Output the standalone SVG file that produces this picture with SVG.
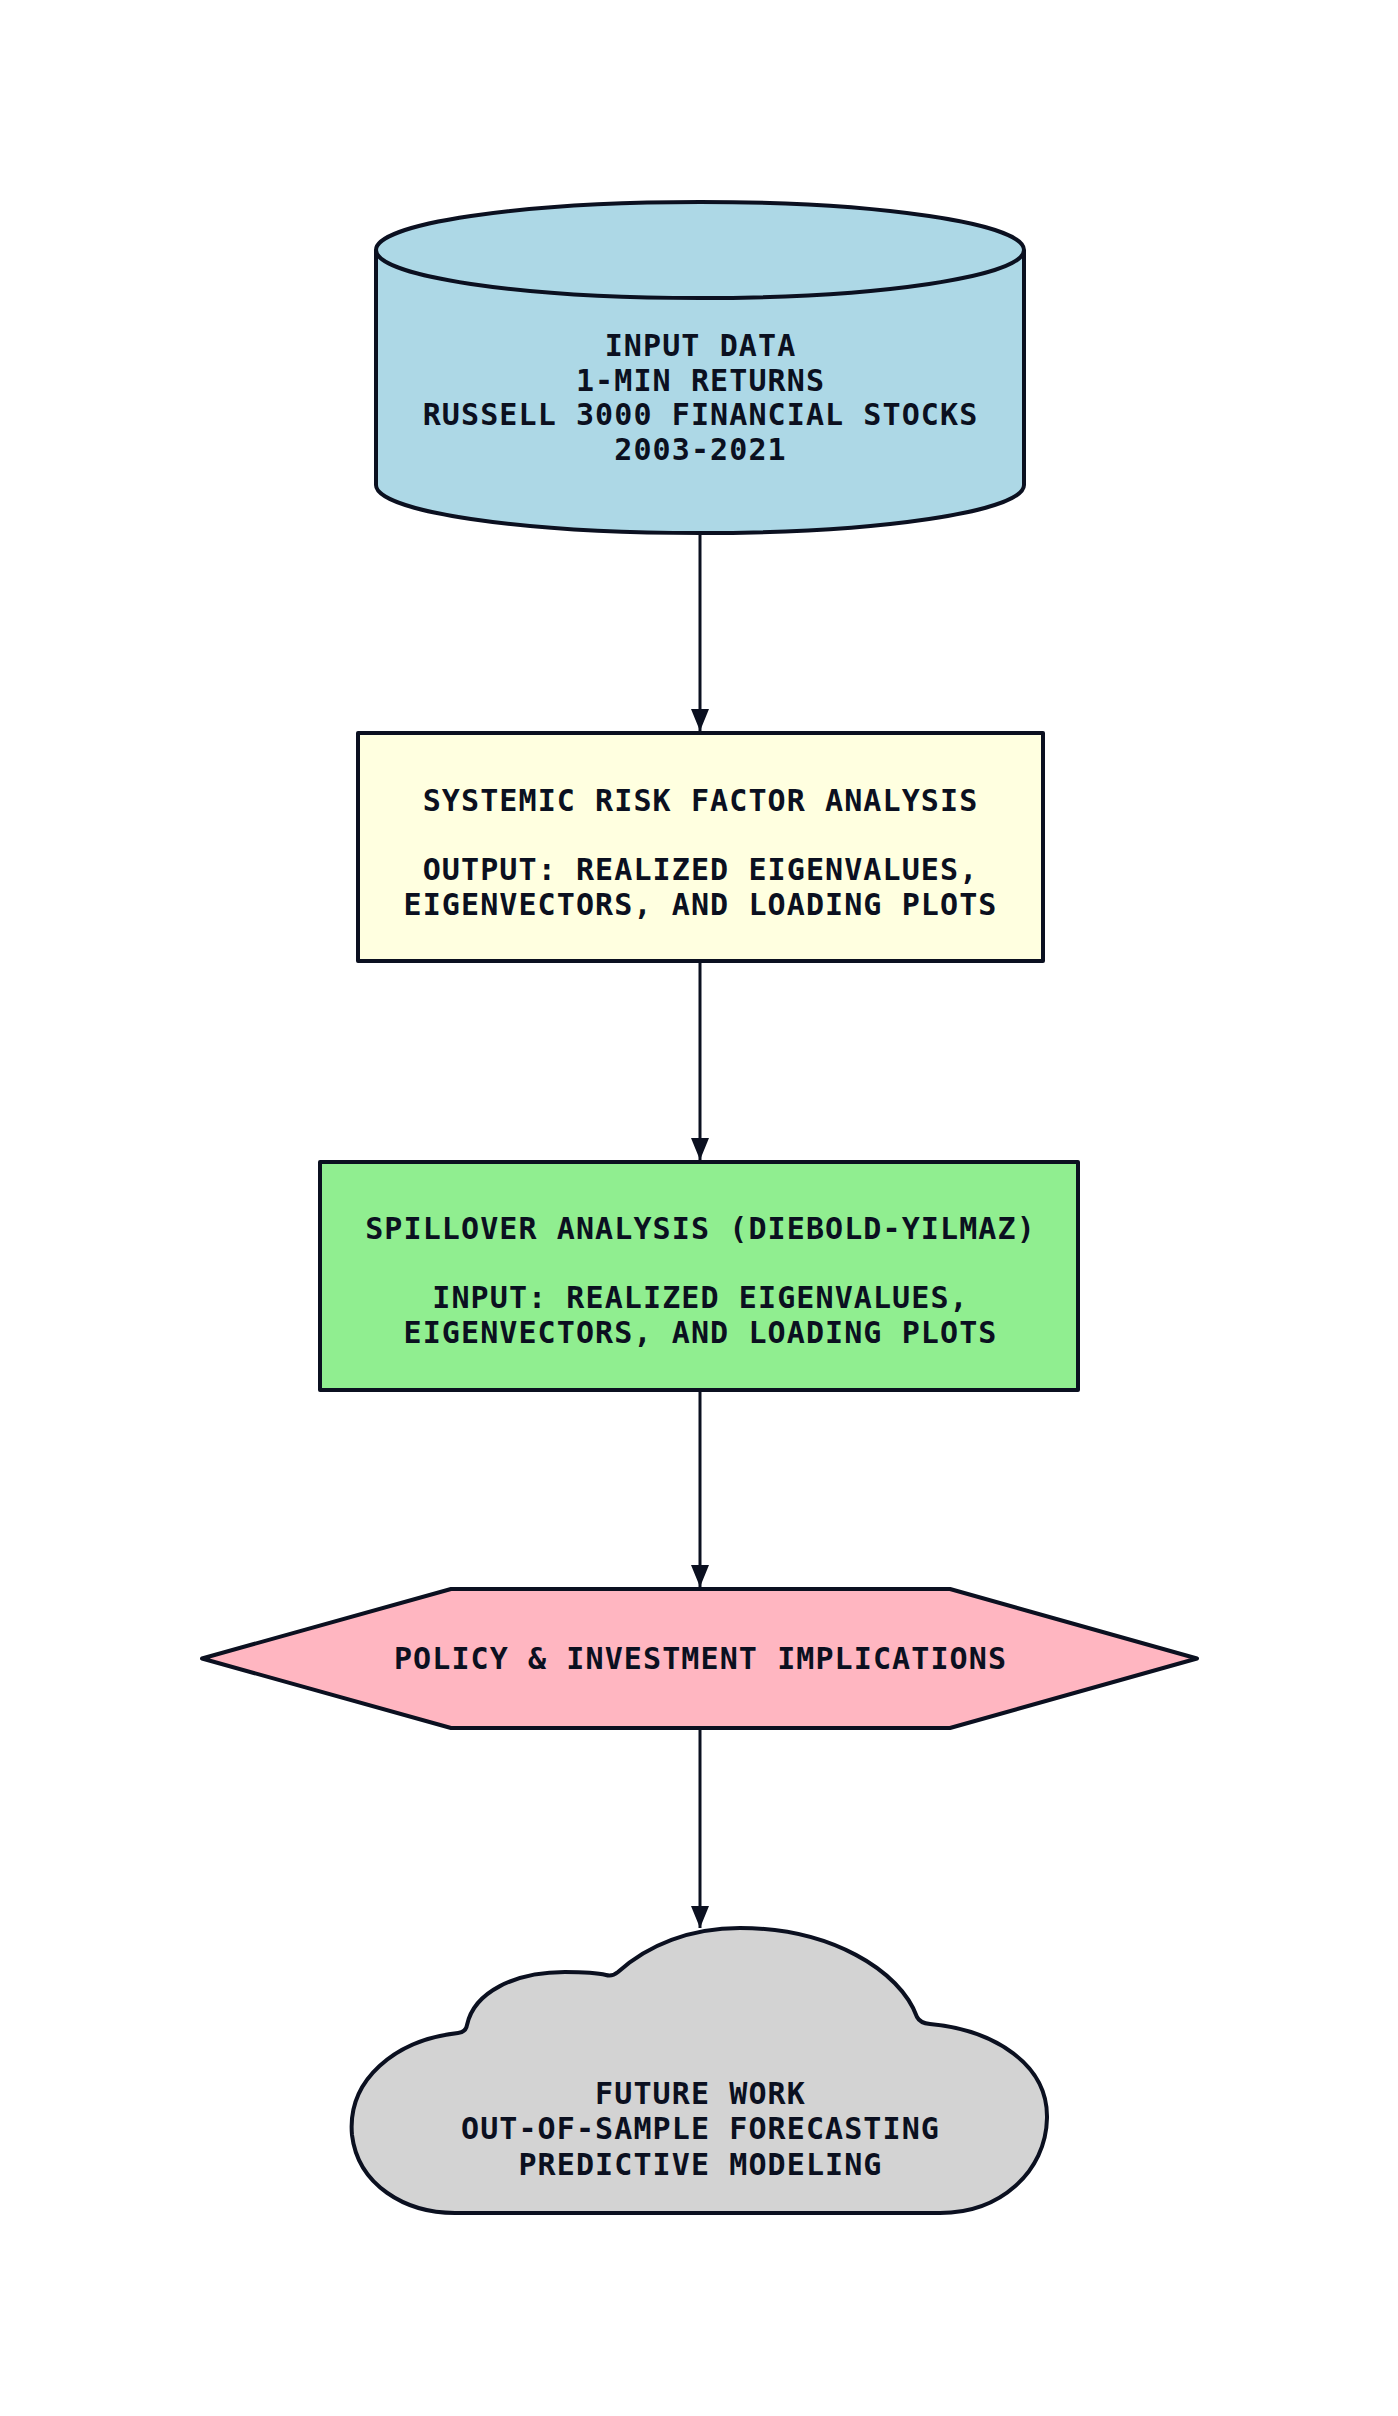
<svg xmlns="http://www.w3.org/2000/svg" width="1398" height="2416" viewBox="0 0 1398 2416">
<defs>
<style>
.lbl{font-family:"DejaVu Sans Mono","Liberation Mono",monospace;font-weight:bold;font-size:30px;letter-spacing:1.1px;fill:#0b1020;text-anchor:middle}
.shape{stroke:#0b1020;stroke-width:4;stroke-linejoin:round}
.edge{stroke:#0b1020;stroke-width:3;fill:none}
</style>
<marker id="arr" viewBox="0 0 22 18" refX="22" refY="9" markerWidth="22" markerHeight="18" markerUnits="userSpaceOnUse" orient="auto">
<path d="M0,0 L22,9 L0,18 Z" fill="#0b1020"/>
</marker>
</defs>
<rect width="1398" height="2416" fill="#ffffff"/>
<g id="connectors">
<line class="edge" x1="700" y1="534" x2="700" y2="731" marker-end="url(#arr)"/>
<line class="edge" x1="700" y1="962" x2="700" y2="1160" marker-end="url(#arr)"/>
<line class="edge" x1="700" y1="1391" x2="700" y2="1587" marker-end="url(#arr)"/>
<line class="edge" x1="700" y1="1729" x2="700" y2="1928" marker-end="url(#arr)"/>
</g>
<g id="input-data">
<path class="shape" fill="#add8e6" d="M376,250 A324,48 0 0 1 1024,250 L1024,485 A324,48 0 0 1 376,485 Z"/>
<path class="shape" fill="none" d="M376,250 A324,48 0 0 0 1024,250"/>
<text class="lbl" x="700.5" y="356">INPUT DATA</text>
<text class="lbl" x="700.5" y="390.5">1-MIN RETURNS</text>
<text class="lbl" x="700.5" y="425">RUSSELL 3000 FINANCIAL STOCKS</text>
<text class="lbl" x="700.5" y="459.5">2003-2021</text>
</g>
<g id="systemic-risk">
<rect class="shape" fill="#ffffe0" x="358" y="733" width="685" height="228"/>
<text class="lbl" x="700.5" y="811">SYSTEMIC RISK FACTOR ANALYSIS</text>
<text class="lbl" x="700.5" y="880">OUTPUT: REALIZED EIGENVALUES,</text>
<text class="lbl" x="700.5" y="915">EIGENVECTORS, AND LOADING PLOTS</text>
</g>
<g id="spillover">
<rect class="shape" fill="#90ee90" x="320" y="1162" width="758" height="228"/>
<text class="lbl" x="700.5" y="1239">SPILLOVER ANALYSIS (DIEBOLD-YILMAZ)</text>
<text class="lbl" x="700.5" y="1308">INPUT: REALIZED EIGENVALUES,</text>
<text class="lbl" x="700.5" y="1343">EIGENVECTORS, AND LOADING PLOTS</text>
</g>
<g id="policy">
<polygon class="shape" fill="#ffb6c1" points="202,1658.5 451,1589 950,1589 1197,1658.5 950,1728 451,1728"/>
<text class="lbl" x="700.5" y="1669">POLICY &amp; INVESTMENT IMPLICATIONS</text>
</g>
<g id="future-work">
<path class="shape" fill="#d3d3d3" d="M455,2213 C405,2213 358,2185 352,2135 C347,2080 395,2040 458,2033 Q466,2032 467,2025 C474,1992 515,1972 565,1972 C585,1972 598,1973 606,1975 Q612,1977 618,1972 C648,1945 690,1928 740,1928 C830,1928 900,1970 917,2017 Q920,2023 930,2024 C995,2030 1048,2065 1047,2118 C1046,2172 1000,2213 940,2213 Z"/>
<text class="lbl" x="700.5" y="2104">FUTURE WORK</text>
<text class="lbl" x="700.5" y="2139">OUT-OF-SAMPLE FORECASTING</text>
<text class="lbl" x="700.5" y="2175">PREDICTIVE MODELING</text>
</g>
</svg>
